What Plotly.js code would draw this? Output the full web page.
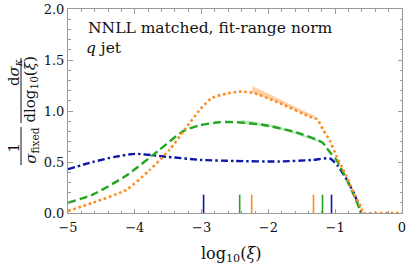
<!DOCTYPE html>
<html>
<head>
<meta charset="utf-8">
<script src="https://cdn.plot.ly/plotly-3.0.1.min.js"></script>
<style>html,body{margin:0;padding:0;background:#fff;}#chart{width:407px;height:264px;}</style>
</head>
<body>
<div id="chart"></div>
<script>
// ---- data ----
const blueX  = [-5, -4.63, -4.3, -4.0, -3.5, -3.0, -2.5, -1.84, -1.34, -1.08, -0.96, -0.83, -0.71, -0.61];
const blueY  = [0.43, 0.50, 0.55, 0.58, 0.55, 0.52, 0.51, 0.505, 0.52, 0.535, 0.46, 0.33, 0.18, 0.0];

const greenX = [-5, -4.63, -4.12, -3.63, -3.28, -3.03, -2.73, -2.48, -2.09, -1.58, -1.19, -1.13, -1.06, -0.98, -0.83, -0.71, -0.61];
const greenY = [0.10, 0.18, 0.37, 0.62, 0.80, 0.86, 0.89, 0.89, 0.865, 0.79, 0.69, 0.64, 0.58, 0.52, 0.33, 0.16, 0.0];

const orangeX = [-5, -4.63, -4.12, -3.78, -3.48, -3.25, -2.99, -2.84, -2.63, -2.43, -2.24, -1.84, -1.38, -1.27, -1.18, -1.08, -0.975, -0.83, -0.725, -0.61, -0.586, -0.4, -0.2, 0];
const orangeY = [0.02, 0.10, 0.23, 0.42, 0.62, 0.82, 1.04, 1.13, 1.17, 1.19, 1.18, 1.08, 0.944, 0.918, 0.815, 0.71, 0.548, 0.358, 0.196, 0.05, 0.0, 0.0, 0.0, 0.0];

const orangeBandX = [-2.24, -1.84, -1.31];
const orangeBandLo = [1.18, 1.08, 0.925];
const orangeBandHi = [1.245, 1.12, 0.95];

const greenBandX = [-2.4, -1.9, -1.16];
const greenBandLo = [0.875, 0.835, 0.68];
const greenBandHi = [0.915, 0.86, 0.695];

// fit ranges (vertical markers)
const fitLo = [-2.97, -2.43, -2.25];   // blue, green, orange
const fitHi = [-1.055, -1.19, -1.325];
const fitMarkHeight = 0.18;

const xTicks = [-5, -4, -3, -2, -1, 0];
const yTicks = [0, 0.5, 1.0, 1.5, 2.0];

const BLUE = '#0c16a8', GREEN = '#22a622', ORANGE = '#ff8a1e';
const FONT = 'DejaVu Serif';

function band(x, lo, hi, fill) {
  return {
    x: x.concat(x.slice().reverse()),
    y: hi.concat(lo.slice().reverse()),
    mode: 'lines', fill: 'toself', fillcolor: fill,
    line: {width: 0}, hoverinfo: 'skip', showlegend: false
  };
}
function marks(i, color) {
  return {
    x: [fitLo[i], fitLo[i], null, fitHi[i], fitHi[i]],
    y: [0, fitMarkHeight, null, 0, fitMarkHeight],
    mode: 'lines', line: {color: color, width: 1.6}, showlegend: false
  };
}

const traces = [
  band(orangeBandX, orangeBandLo, orangeBandHi, 'rgba(255,150,60,0.45)'),
  band(greenBandX, greenBandLo, greenBandHi, 'rgba(60,190,60,0.35)'),
  marks(0, BLUE), marks(1, GREEN), marks(2, ORANGE),
  {x: blueX, y: blueY, mode: 'lines', line: {color: BLUE, width: 2.4, dash: '7px,3px,2.5px,3px', shape: 'spline', smoothing: 0.6}, showlegend: false},
  {x: greenX, y: greenY, mode: 'lines', line: {color: GREEN, width: 2.4, dash: '8px,4px', shape: 'spline', smoothing: 0.6}, showlegend: false},
  {x: orangeX, y: orangeY, mode: 'lines', line: {color: ORANGE, width: 2.6, dash: '2.6px,2.8px', shape: 'spline', smoothing: 0.6}, showlegend: false}
];

const axisCommon = {
  showgrid: false, zeroline: false, showline: true, linecolor: '#9a9a9a', linewidth: 1,
  mirror: 'allticks', ticks: 'inside', ticklen: 4.5, tickwidth: 1, tickcolor: '#9a9a9a',
  tickfont: {family: FONT, size: 13, color: '#111'}
};

const layout = {
  width: 407, height: 264,
  margin: {l: 68, r: 5, t: 9, b: 51},
  paper_bgcolor: '#fff', plot_bgcolor: '#fff',
  font: {family: FONT, color: '#111'},
  xaxis: Object.assign({}, axisCommon, {
    range: [-5, 0], tickvals: xTicks, ticktext: xTicks.map(v => v < 0 ? '\u2212' + Math.abs(v) : String(v)),
    ticklabelstandoff: 2,
    minor: {dtick: 0.2, ticklen: 2.5, tickcolor: '#9a9a9a', ticks: 'inside'}
  }),
  yaxis: Object.assign({}, axisCommon, {
    range: [0, 2], tickvals: yTicks, ticktext: yTicks.map(v => v.toFixed(1)),
    minor: {dtick: 0.1, ticklen: 2.5, tickcolor: '#9a9a9a', ticks: 'inside'}
  }),
  annotations: [
    {xref: 'paper', yref: 'paper', x: 0.054, y: 0.909, xanchor: 'left', yanchor: 'middle', showarrow: false,
     text: 'NNLL matched, fit-range norm', font: {family: FONT, size: 15.5, color: '#111'}},
    {xref: 'paper', yref: 'paper', x: 0.048, y: 0.81, xanchor: 'left', yanchor: 'middle', showarrow: false,
     text: '<i>q</i> jet', font: {family: FONT, size: 15.5, color: '#111'}},
    // x-axis title
    {xref: 'paper', yref: 'paper', x: 0.49, y: -0.201, xanchor: 'center', yanchor: 'middle', showarrow: false,
     text: 'log<sub>10</sub>(<i>ξ</i>)', font: {family: FONT, size: 16, color: '#111'}},
    // y-axis label: 1/σ_fixed · dσ_κ / dlog10(ξ)
    {xref: 'paper', yref: 'paper', x: -0.163, y: 0.319, xanchor: 'center', yanchor: 'middle', showarrow: false, textangle: -90,
     text: '1', font: {family: FONT, size: 15, color: '#111'}},
    {xref: 'paper', yref: 'paper', x: -0.112, y: 0.328, xanchor: 'center', yanchor: 'middle', showarrow: false, textangle: -90,
     text: '<i>σ</i><sub>fixed</sub>', font: {family: FONT, size: 15, color: '#111'}},
    {xref: 'paper', yref: 'paper', x: -0.1617, y: 0.691, xanchor: 'center', yanchor: 'middle', showarrow: false, textangle: -90,
     text: 'd<i>σ</i><sub><i>κ</i></sub>', font: {family: FONT, size: 15, color: '#111'}},
    {xref: 'paper', yref: 'paper', x: -0.112, y: 0.603, xanchor: 'center', yanchor: 'middle', showarrow: false, textangle: -90,
     text: 'dlog<sub>10</sub>(<i>ξ</i>)', font: {family: FONT, size: 15, color: '#111'}}
  ],
  shapes: [
    {type: 'line', xref: 'paper', yref: 'paper', x0: -0.1407, x1: -0.1407, y0: 0.235, y1: 0.4216, line: {color: '#111', width: 1}},
    {type: 'line', xref: 'paper', yref: 'paper', x0: -0.1407, x1: -0.1407, y0: 0.441, y1: 0.760, line: {color: '#111', width: 1}}
  ]
};

Plotly.newPlot('chart', traces, layout, {displayModeBar: false, staticPlot: true});
</script>
</body>
</html>
